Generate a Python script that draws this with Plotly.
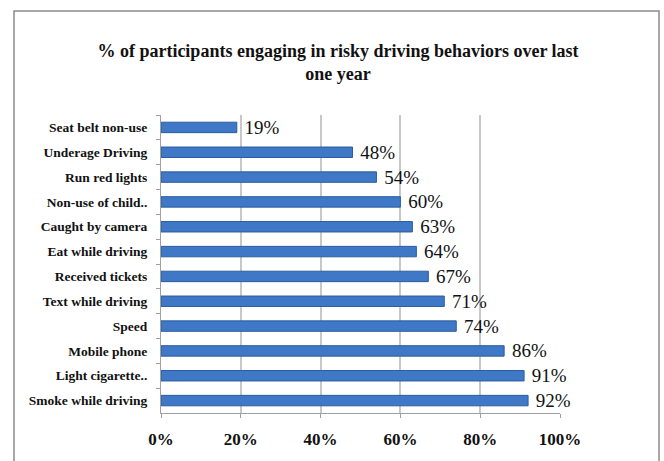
import plotly.graph_objects as go

categories = ["Seat belt non-use", "Underage Driving", "Run red lights", "Non-use of child..",
              "Caught by camera", "Eat while driving", "Received tickets", "Text while driving",
              "Speed", "Mobile phone", "Light cigarette..", "Smoke while driving"]
values = [19, 48, 54, 60, 63, 64, 67, 71, 74, 86, 91, 92]
tick_vals = [0, 20, 40, 60, 80, 100]
tick_text = ["0%", "20%", "40%", "60%", "80%", "100%"]

serif = "Liberation Serif, Times New Roman, serif"

fig = go.Figure(go.Bar(
    x=values, y=categories, orientation="h",
    marker=dict(color="#3e78c6", line=dict(color="#2d5d9c", width=1)),
    text=[f" {v}%" for v in values], textposition="outside",
    textfont=dict(family=serif, size=19, color="#111"),
    constraintext="none",
    cliponaxis=False, width=0.42,
))

L, R, T, B = 161, 104, 115, 45
W, H = 664, 461
pw, ph = W - L - R, H - T - B

fig.update_layout(
    width=W, height=H,
    margin=dict(l=L, r=R, t=T, b=B),
    paper_bgcolor="white", plot_bgcolor="white",
    showlegend=False,
    title=dict(text="<b>% of participants engaging in risky driving behaviors over last<br>one year</b>",
               font=dict(family=serif, size=18, color="#111"),
               x=338 / W, xanchor="center", y=1 - 57 / H, yanchor="middle"),
    xaxis=dict(range=[0, 100], tickvals=tick_vals, ticktext=tick_text,
               showgrid=True, gridcolor="#c8c8c8", gridwidth=1.5,
               showline=True, linecolor="#a0a0a0", linewidth=1,
               ticks="outside", ticklen=4, tickcolor="#a0a0a0",
               tickfont=dict(family=serif, size=17, color="#111", weight="bold"),
               ticklabelstandoff=7,
               zeroline=False, fixedrange=True),
    yaxis=dict(autorange="reversed", type="category",
               showline=True, linecolor="#a0a0a0", linewidth=1,
               ticks="outside", ticklen=4, tickcolor="#a0a0a0", tickson="boundaries",
               tickfont=dict(family=serif, size=13.5, color="#111", weight="bold"),
               ticklabelstandoff=10, showgrid=False),
    shapes=[dict(type="rect", xref="paper", yref="paper",
                 x0=(14 - L) / pw, x1=(659 - L) / pw,
                 y0=-(H - T + 20) / ph, y1=1 + (T - 10) / ph,
                 line=dict(color="#8a8a8a", width=1.5), fillcolor="rgba(0,0,0,0)", layer="below")],
)

fig.write_html("out.html")
